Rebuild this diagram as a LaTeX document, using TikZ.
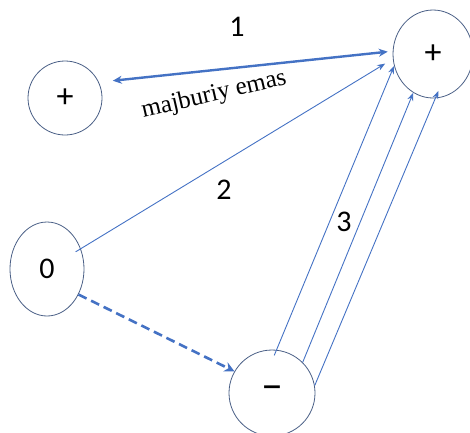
\documentclass[tikz,border=0pt]{standalone}
\usepackage{fontspec}
\setmainfont{Carlito}
\newfontfamily\timesfont{Liberation Serif}
\usetikzlibrary{arrows.meta,shapes.geometric}
\definecolor{lineblue}{HTML}{4472C4}
\definecolor{ringblue}{HTML}{4A5F86}
\begin{document}
\begin{tikzpicture}[x=1pt,y=-1pt,
  ion/.style={draw=ringblue,line width=0.8pt,ellipse,inner sep=0pt,font=\fontsize{34}{36}\selectfont},
  link/.style={draw=lineblue,line width=0.9pt,-{Stealth[length=8pt,width=6pt]}},
  num/.style={font=\fontsize{30}{32}\selectfont}]
\useasboundingbox (0,0) rectangle (470,432);
\node[ion,minimum width=74pt,minimum height=74pt] (pl) at (65,98) {+};
\node[ion,minimum width=80pt,minimum height=88pt] (pr) at (433,54) {+};
\node[ion,minimum width=74pt,minimum height=94pt,font=\fontsize{30}{32}\selectfont] (zero) at (47,269) {0};
\node[ion,minimum width=86pt,minimum height=86pt,font=\fontsize{44}{46}\selectfont] (mi) at (272,393) {–};
% 1: both ways
\draw[link,line width=2.4pt,{Stealth[length=9pt,width=8pt]}-{Stealth[length=9pt,width=8pt]},
      shorten <=14pt,shorten >=5pt] (pl.25) -- (pr.176);
\node[num] (one) at (237,27) {1};
\node[rotate=13,font=\timesfont\fontsize{25}{27}\selectfont] (opt) at (214,95) {majburiy emas};
% 2
\draw[link,shorten <=-6pt,shorten >=9pt] (zero.31) -- (pr.187);
\node[num] (two) at (224,190) {2};
% 3
\draw[link,shorten <=-6pt] (mi.84) -- (pr.197);
\draw[link] (mi.45) -- (pr.243);
\draw[link,shorten >=-8pt] (mi.10) -- (pr.273);
\node[num] (three) at (344,222) {3};
% dashed one
\draw[link,line width=2.6pt,dashed,dash pattern=on 9pt off 5pt,
      -{Stealth[length=10pt,width=10pt]}] (zero.-39) -- (mi.150);
\end{tikzpicture}
\end{document}
